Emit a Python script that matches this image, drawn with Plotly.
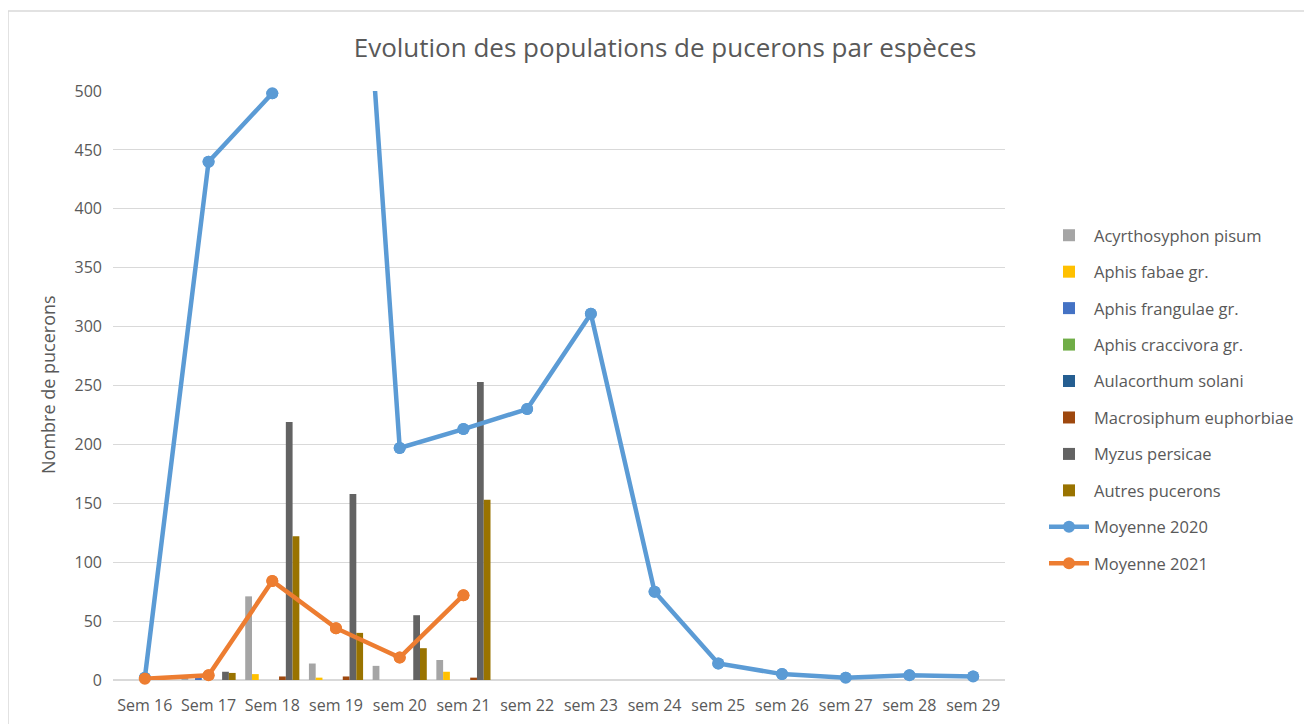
import plotly.graph_objects as go

# Weeks (x categories)
weeks = ["Sem 16", "Sem 17", "Sem 18", "sem 19", "sem 20", "sem 21", "sem 22",
         "sem 23", "sem 24", "sem 25", "sem 26", "sem 27", "sem 28", "sem 29"]

# Counts per species
acyrthosyphon = [0, 1, 71, 14, 12, 17, 0, 0, 0, 0, 0, 0, 0, 0]
aphis_fabae = [0, 0, 5, 2, 0, 7, 0, 0, 0, 0, 0, 0, 0, 0]
aphis_frangulae = [0, 2, 0, 0, 0, 0, 0, 0, 0, 0, 0, 0, 0, 0]
aphis_craccivora = [0, 0, 0, 0, 0, 0, 0, 0, 0, 0, 0, 0, 0, 0]
aulacorthum = [0, 0, 0, 0, 0, 0, 0, 0, 0, 0, 0, 0, 0, 0]
macrosiphum = [0, 0, 3, 3, 0, 2, 0, 0, 0, 0, 0, 0, 0, 0]
myzus = [0, 7, 219, 158, 55, 253, 0, 0, 0, 0, 0, 0, 0, 0]
autres = [0, 6, 122, 40, 27, 153, 0, 0, 0, 0, 0, 0, 0, 0]

# Averages (lines)
moyenne_2020 = [2, 440, 498, 980, 197, 213, 230, 311, 75, 14, 5, 2, 4, 3]
moyenne_2021 = [1, 4, 84, 44, 19, 72, None, None, None, None, None, None, None, None]

Y_MAX = 500

bar_series = [
    ("Acyrthosyphon pisum", acyrthosyphon, "#A5A5A5"),
    ("Aphis fabae gr.", aphis_fabae, "#FFC000"),
    ("Aphis frangulae gr.", aphis_frangulae, "#4472C4"),
    ("Aphis craccivora gr.", aphis_craccivora, "#70AD47"),
    ("Aulacorthum solani", aulacorthum, "#255E91"),
    ("Macrosiphum euphorbiae", macrosiphum, "#9E480E"),
    ("Myzus persicae", myzus, "#636363"),
    ("Autres pucerons", autres, "#997300"),
]
line_series = [
    ("Moyenne 2020", moyenne_2020, "#5B9BD5"),
    ("Moyenne 2021", moyenne_2021, "#ED7D31"),
]

FONT = "Open Sans, Noto Sans, sans-serif"
GREY = "#595959"
GRID = "#D9D9D9"

fig = go.Figure()
for name, vals, color in bar_series:
    fig.add_trace(go.Bar(x=weeks, y=vals, name=name, marker_color=color,
                         marker_line_width=0, legendgroup=name))
for name, vals, color in line_series:
    fig.add_trace(go.Scatter(x=weeks, y=vals, name=name, mode="lines+markers",
                             line=dict(color=color, width=4.5),
                             marker=dict(color=color, size=12),
                             legendgroup=name, connectgaps=False))
    # markers near the top edge must not be cut by the plot-area clip,
    # but points above the axis maximum stay hidden (Excel behaviour)
    in_range = [v if v is not None and v <= Y_MAX else None for v in vals]
    fig.add_trace(go.Scatter(x=weeks, y=in_range, mode="markers", cliponaxis=False,
                             marker=dict(color=color, size=12), showlegend=False,
                             hoverinfo="skip"))

# the page body adds an 8px margin, so the figure is drawn 8px smaller
# and every screen position below is corrected by that offset
OFF = 8
W, H = 1312 - OFF, 724 - OFF
# plot area on screen: x 113..1005, y 91..680
L, T = 113 - OFF, 91 - OFF
pw, ph = 1005 - 113, 680 - 91
R, B = W - L - pw, H - T - ph


def px_x(p):
    return (p - OFF - L) / pw


def px_y(p):
    return (T + ph - (p - OFF)) / ph


fig.update_layout(
    width=W, height=H,
    margin=dict(l=L, r=R, t=T, b=B, autoexpand=False),
    paper_bgcolor="white", plot_bgcolor="white",
    font=dict(family=FONT, color=GREY, size=16),
    barmode="group", bargap=0.15, bargroupgap=0,
    title=dict(text="Evolution des populations de pucerons par espèces",
               x=px_x(665), xref="paper", xanchor="center",
               y=1 - (48 - OFF) / H, yanchor="middle",
               font=dict(size=26, color=GREY, family=FONT)),
    legend=dict(x=px_x(1044), y=px_y(218), xanchor="left", yanchor="top",
                font=dict(size=16.5, color=GREY, family=FONT),
                tracegroupgap=12, itemwidth=40, bgcolor="rgba(0,0,0,0)"),
    shapes=[dict(type="rect", xref="paper", yref="paper",
                 x0=px_x(8), x1=px_x(1330), y0=px_y(11), y1=px_y(740),
                 line=dict(color=GRID, width=1.5), layer="below")],
    annotations=[dict(text="Nombre de pucerons", textangle=-90,
                      xref="paper", yref="paper", x=px_x(48), y=px_y(385),
                      xanchor="center", yanchor="middle", showarrow=False,
                      font=dict(size=18, color=GREY, family=FONT))],
)
fig.update_xaxes(range=[-0.5, len(weeks) - 0.5], showgrid=False, showline=False,
                 ticks="", tickfont=dict(size=16, color=GREY), ticklabelstandoff=14)
fig.update_yaxes(range=[0, Y_MAX], dtick=50, showgrid=True, gridcolor=GRID, gridwidth=1,
                 zeroline=True, zerolinecolor=GRID, zerolinewidth=1.5,
                 showline=False, ticks="", tickfont=dict(size=16, color=GREY),
                 ticklabelstandoff=10)

fig.write_html("out.html")
